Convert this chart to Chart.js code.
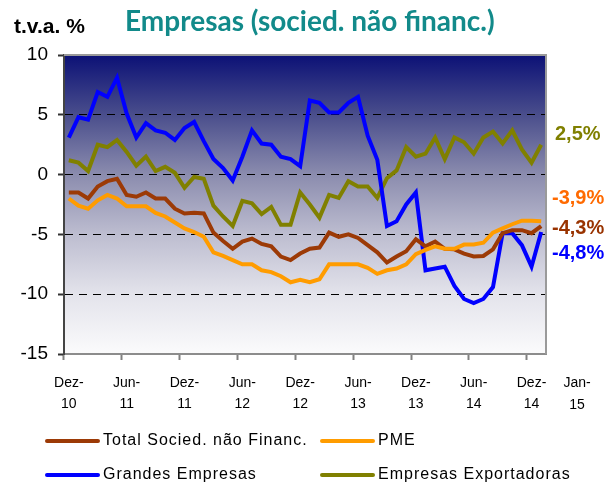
<!DOCTYPE html>
<html><head><meta charset="utf-8">
<script src="https://cdn.jsdelivr.net/npm/chart.js@4.4.1/dist/chart.umd.min.js"></script>
<style>
html,body{margin:0;padding:0;background:#fff;}
#wrap{position:relative;width:616px;height:485px;overflow:hidden;font-family:"Liberation Sans",Arial,sans-serif;}
canvas{position:absolute;left:0;top:0;}
.t{position:absolute;white-space:nowrap;}
.lg{position:absolute;font-size:16px;line-height:18px;letter-spacing:1px;color:#000;white-space:nowrap;}
.lg span.ln{display:inline-block;width:55px;height:4px;border-radius:2px;vertical-align:middle;margin-right:3px;}
</style></head><body>
<div id="wrap">
<canvas id="c" width="616" height="485"></canvas>
<div class="t" style="left:14px;top:13px;font-weight:bold;font-size:21px;line-height:26px;color:#000;">t.v.a. %</div>
<div class="t" style="left:125px;top:3px;font-family:Lato,'Open Sans',sans-serif;font-weight:bold;font-size:28px;line-height:34px;color:#128a8a;">Empresas (socied. não financ.)</div>
<div id="ends"></div>
<div class="t" id="extraTick" style="left:557px;top:371px;width:40px;text-align:center;font-size:14px;line-height:22px;color:#000;"></div>
<div id="legend"></div>
</div>
<script>
// ---- data ----
const categories = [
 "Dez-10","Jan-11","Fev-11","Mar-11","Abr-11","Mai-11","Jun-11","Jul-11","Ago-11","Set-11","Out-11","Nov-11",
 "Dez-11","Jan-12","Fev-12","Mar-12","Abr-12","Mai-12","Jun-12","Jul-12","Ago-12","Set-12","Out-12","Nov-12",
 "Dez-12","Jan-13","Fev-13","Mar-13","Abr-13","Mai-13","Jun-13","Jul-13","Ago-13","Set-13","Out-13","Nov-13",
 "Dez-13","Jan-14","Fev-14","Mar-14","Abr-14","Mai-14","Jun-14","Jul-14","Ago-14","Set-14","Out-14","Nov-14",
 "Dez-14","Jan-15"
];
const tickLabels = ["Dez-10","Jun-11","Dez-11","Jun-12","Dez-12","Jun-13","Dez-13","Jun-14","Dez-14"];
const extraTickLabel = "Jan-15";
const yTicks = [10, 5, 0, -5, -10, -15];

const seriesNames = ["Total Socied. não Financ.", "PME", "Grandes Empresas", "Empresas Exportadoras"];
const totalSociedades = [-1.5,-1.5,-2.0,-1.0,-0.55,-0.35,-1.7,-1.85,-1.5,-2.0,-2.0,-2.85,
 -3.25,-3.2,-3.25,-4.85,-5.55,-6.2,-5.6,-5.35,-5.8,-6.0,-6.85,-7.15,
 -6.6,-6.2,-6.1,-4.85,-5.2,-5.0,-5.3,-5.9,-6.5,-7.35,-6.85,-6.4,
 -5.4,-6.0,-5.6,-6.2,-6.25,-6.6,-6.85,-6.8,-6.25,-4.9,-4.65,-4.65,
 -4.9,-4.3];
const pme = [-2.0,-2.6,-2.85,-2.15,-1.7,-2.0,-2.65,-2.65,-2.65,-3.2,-3.5,-4.0,
 -4.5,-4.8,-5.2,-6.5,-6.8,-7.15,-7.5,-7.5,-8.0,-8.15,-8.5,-9.0,
 -8.8,-9.0,-8.75,-7.5,-7.5,-7.5,-7.5,-7.8,-8.3,-8.0,-7.85,-7.5,
 -6.65,-6.3,-6.0,-6.2,-6.2,-5.85,-5.85,-5.7,-4.85,-4.5,-4.15,-3.85,
 -3.85,-3.9];
const grandesEmpresas = [3.1,4.8,4.6,6.9,6.5,8.1,5.1,3.1,4.3,3.7,3.5,2.9,
 3.9,4.4,2.8,1.3,0.55,-0.5,1.5,3.7,2.6,2.5,1.5,1.3,
 0.7,6.2,6.0,5.2,5.2,6.0,6.5,3.25,1.25,-4.3,-3.9,-2.5,
 -1.5,-8.0,-7.85,-7.7,-9.3,-10.4,-10.75,-10.4,-9.4,-4.9,-4.9,-5.9,
 -7.7,-4.8];
const exportadoras = [1.2,1.0,0.3,2.5,2.3,2.9,1.9,0.75,1.5,0.3,0.65,0.15,
 -1.1,-0.2,-0.35,-2.6,-3.5,-4.3,-2.2,-2.4,-3.3,-2.7,-4.2,-4.2,
 -1.5,-2.5,-3.6,-1.7,-1.95,-0.55,-1.0,-1.0,-1.95,-0.3,0.35,2.3,
 1.5,1.75,3.1,1.3,3.1,2.7,1.75,3.1,3.6,2.6,3.7,2.1,
 1.0,2.5];

const seriesColors = ["#9c3a06", "#ff9c00", "#0000ff", "#808000"];
const endLabelColors = ["#993300", "#ff6a00", "#0000ff", "#808000"];

// ---- chart ----
const seriesData = [totalSociedades, pme, grandesEmpresas, exportadoras];
const datasets = seriesData.map((d, i) => ({
  label: seriesNames[i], data: d, borderColor: seriesColors[i], backgroundColor: seriesColors[i],
  borderWidth: 4, pointRadius: 0, tension: 0, fill: false
}));
datasets[0].order = 2; datasets[1].order = 1; datasets[2].order = 3; datasets[3].order = 4;

const bgPlugin = {
  id: 'bg',
  beforeDraw(chart) {
    const {ctx, chartArea: a} = chart;
    const g = ctx.createLinearGradient(0, a.top, 0, a.bottom);
    g.addColorStop(0, '#0c1176');
    g.addColorStop(0.2, '#4a4e8c');
    g.addColorStop(0.4, '#8b8cae');
    g.addColorStop(0.6, '#bdbdd0');
    g.addColorStop(0.8, '#e3e3eb');
    g.addColorStop(1, '#fbfbfc');
    ctx.save();
    ctx.fillStyle = g;
    ctx.fillRect(a.left, a.top, a.right - a.left, a.bottom - a.top);
    ctx.restore();
  },
  afterDraw(chart) {
    const {ctx, chartArea: a} = chart;
    ctx.save();
    ctx.strokeStyle = '#9a9a9a';
    ctx.lineWidth = 2;
    ctx.beginPath();
    ctx.moveTo(a.left, a.top); ctx.lineTo(a.right, a.top); ctx.lineTo(a.right, a.bottom);
    ctx.stroke();
    ctx.restore();
  }
};

const tickIdx = new Set(tickLabels.map(l => categories.indexOf(l)));

new Chart(document.getElementById('c'), {
  type: 'line',
  data: { labels: categories, datasets },
  plugins: [bgPlugin],
  options: {
    responsive: false, animation: false,
    layout: { padding: { top: 55, right: 70, left: 0, bottom: 71 } },
    plugins: { legend: { display: false }, tooltip: { enabled: false }, title: { display: false } },
    scales: {
      x: {
        type: 'category', offset: true,
        afterFit(s) { s.height = 60; },
        grid: {
          offset: true, drawOnChartArea: false, drawTicks: true, tickLength: 6,
          tickColor: c => tickIdx.has(c.index) ? '#808080' : 'rgba(0,0,0,0)', tickWidth: 2
        },
        border: { display: true, color: '#8c8c8c', width: 2 },
        ticks: {
          autoSkip: false, maxRotation: 0, minRotation: 0, padding: 12,
          color: '#000', font: { family: "'Liberation Sans', Arial, sans-serif", size: 14, lineHeight: 1.55 },
          callback(v, i) { const l = categories[i]; return tickIdx.has(i) ? [l.slice(0, 4), l.slice(4)] : ''; }
        }
      },
      y: {
        min: -15, max: 10,
        afterFit(s) { s.width = 64; },
        afterBuildTicks(s) { s.ticks = yTicks.map(v => ({ value: v })); },
        grid: {
          drawOnChartArea: true, drawTicks: true, tickLength: 6,
          color: c => (c.tick && (c.tick.value === 10 || c.tick.value === -15)) ? 'rgba(0,0,0,0)' : '#000',
          lineWidth: 1, tickColor: '#333', tickWidth: 2
        },
        border: { display: true, color: '#444', width: 2, dash: [8, 6] },
        ticks: {
          padding: 10, color: '#000',
          font: { family: "'Liberation Sans', Arial, sans-serif", size: 19 }
        }
      }
    }
  }
});

// end-of-series labels
const fmt = v => v.toFixed(1).replace('.', ',') + '%';
const endPos = [
  { s: 0, left: 552, top: 215 },
  { s: 1, left: 552, top: 185 },
  { s: 2, left: 552, top: 240 },
  { s: 3, left: 555, top: 121 }
];
const ends = document.getElementById('ends');
endPos.forEach(p => {
  const d = document.createElement('div');
  d.className = 't';
  d.style.cssText = `left:${p.left}px;top:${p.top}px;font-weight:bold;font-size:20px;line-height:24px;color:${endLabelColors[p.s]};`;
  const arr = seriesData[p.s];
  d.textContent = fmt(arr[arr.length - 1]);
  ends.appendChild(d);
});
document.getElementById('extraTick').innerHTML = extraTickLabel.slice(0, 4) + '<br>' + extraTickLabel.slice(4);

// legend
const legPos = [
  { s: 0, left: 45, top: 431 }, { s: 1, left: 320, top: 431 },
  { s: 2, left: 45, top: 465 }, { s: 3, left: 320, top: 465 }
];
const lg = document.getElementById('legend');
legPos.forEach(p => {
  const d = document.createElement('div');
  d.className = 'lg';
  d.style.left = p.left + 'px'; d.style.top = p.top + 'px';
  d.innerHTML = `<span class="ln" style="background:${seriesColors[p.s]}"></span>`;
  d.appendChild(document.createTextNode(seriesNames[p.s]));
  lg.appendChild(d);
});
</script>
</body></html>
